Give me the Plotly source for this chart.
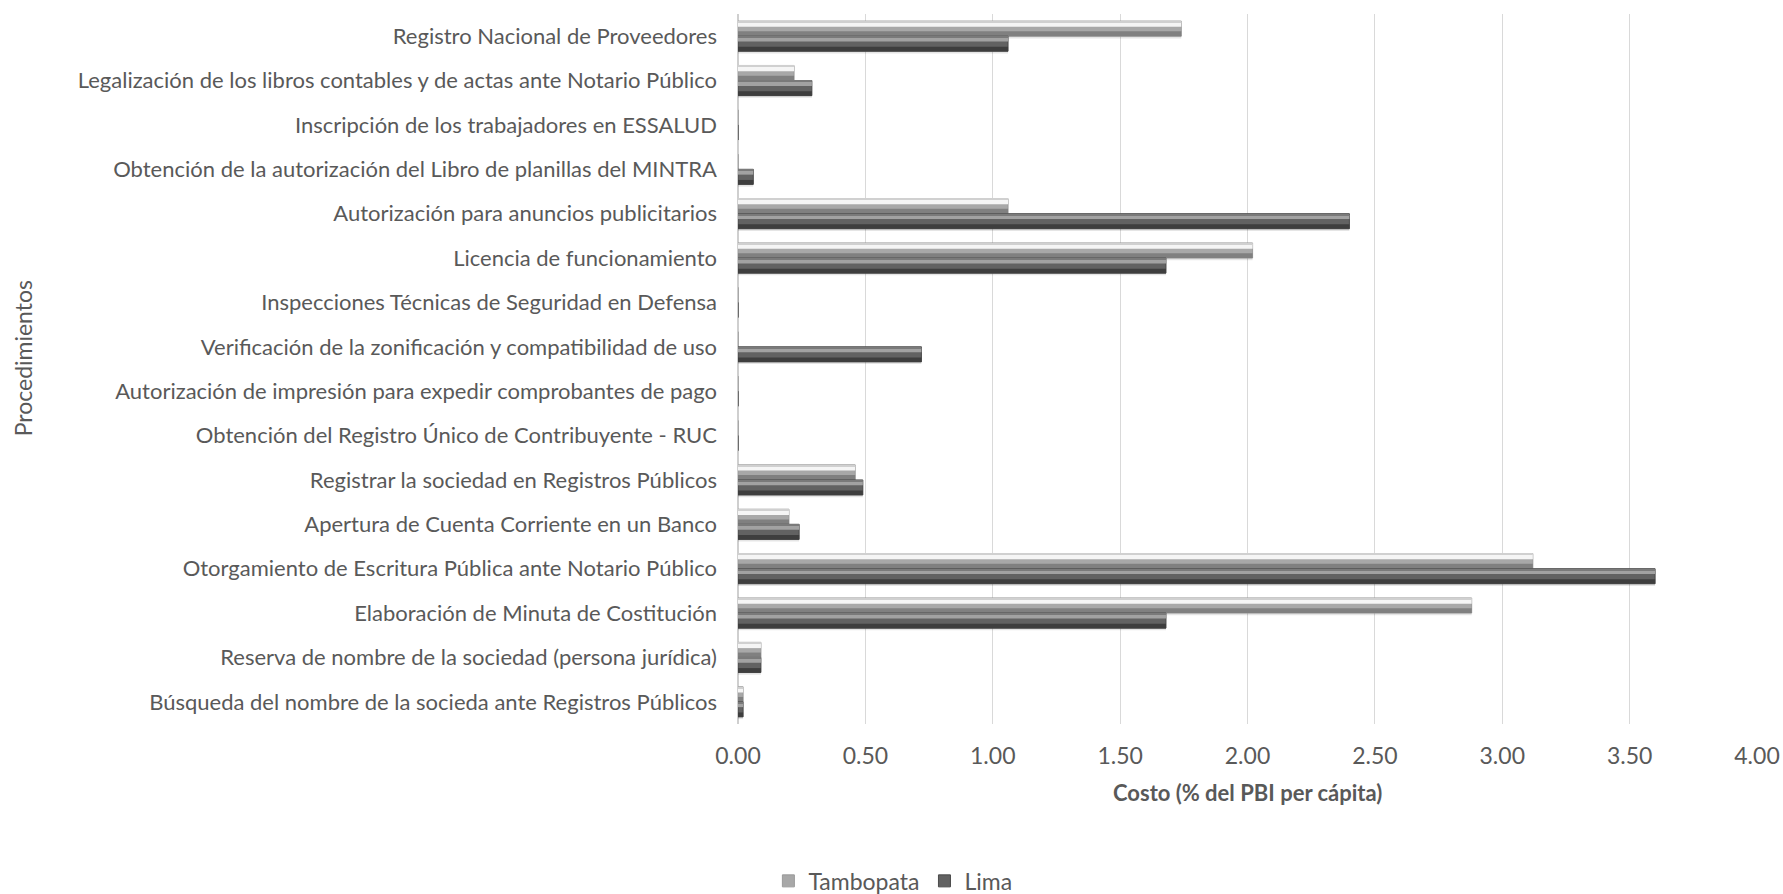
import plotly.graph_objects as go

# Procedures, listed bottom to top as they appear on the category axis
procedimientos = [
    "Búsqueda del nombre de la socieda ante Registros Públicos",
    "Reserva de nombre de la sociedad (persona jurídica)",
    "Elaboración de Minuta de Costitución",
    "Otorgamiento de Escritura Pública ante Notario Público",
    "Apertura de Cuenta Corriente en un Banco",
    "Registrar la sociedad en Registros Públicos",
    "Obtención del Registro Único de Contribuyente - RUC",
    "Autorización de impresión para expedir comprobantes de pago",
    "Verificación de la zonificación y compatibilidad de uso",
    "Inspecciones Técnicas de Seguridad en Defensa",
    "Licencia de funcionamiento",
    "Autorización para anuncios publicitarios",
    "Obtención de la autorización del Libro de planillas del MINTRA",
    "Inscripción de los trabajadores en ESSALUD",
    "Legalización de los libros contables y de actas ante Notario Público",
    "Registro Nacional de Proveedores",
]

# Cost as % of GDP per capita
tambopata = [0.02, 0.09, 2.88, 3.12, 0.20, 0.46, 0.0, 0.0, 0.0, 0.0, 2.02, 1.06, 0.0, 0.0, 0.22, 1.74]
lima = [0.02, 0.09, 1.68, 3.60, 0.24, 0.49, 0.0, 0.0, 0.72, 0.0, 1.68, 2.40, 0.06, 0.0, 0.29, 1.06]

x_ticks = [0.0, 0.5, 1.0, 1.5, 2.0, 2.5, 3.0, 3.5, 4.0]

TEXT = "#595959"
FONT = "Lato"

fig = go.Figure()

BAR_W = 0.34


def shaded_bar(name, values, base_offset, bands, base_color, outline):
    """Draw one series as a bar plus horizontal shading bands on top of it."""
    fig.add_trace(go.Bar(
        name=name, y=procedimientos, x=values, orientation="h",
        offset=base_offset, width=BAR_W,
        marker=dict(color=base_color, line=dict(color=outline, width=1)),
        legendgroup=name, showlegend=True, hoverinfo="x+y",
    ))
    for off, w, col in bands:
        fig.add_trace(go.Bar(
            name=name, y=procedimientos, x=values, orientation="h",
            offset=base_offset + off, width=w,
            marker=dict(color=col, line=dict(width=0)),
            legendgroup=name, showlegend=False, hoverinfo="skip",
        ))


# soft drop shadows under the bars
for vals, off in ((tambopata, 0.0), (lima, -BAR_W)):
    fig.add_trace(go.Bar(
        y=procedimientos, x=vals, orientation="h",
        offset=off - 0.05, width=BAR_W,
        marker=dict(color="rgba(0,0,0,0.10)", line=dict(width=0)),
        showlegend=False, hoverinfo="skip",
    ))

shaded_bar(
    "Tambopata", tambopata, 0.0,
    bands=[(0.0, 0.11, "#808080"), (0.21, 0.12, "#f5f5f5"), (0.31, 0.03, "#d0d0d0")],
    base_color="#a8a8a8", outline="#9a9a9a",
)
shaded_bar(
    "Lima", lima, -BAR_W,
    bands=[(0.0, 0.10, "#3e3e3e"), (0.22, 0.09, "#a2a2a2"), (0.31, 0.03, "#7a7a7a")],
    base_color="#626262", outline="#4a4a4a",
)

fig.update_layout(
    width=1783, height=894,
    margin=dict(l=738, r=26, t=14, b=170, autoexpand=False),
    barmode="overlay",
    plot_bgcolor="white", paper_bgcolor="white",
    font=dict(family=FONT, size=22, color=TEXT),
    xaxis=dict(
        range=[0, 4.0], tickvals=x_ticks, tickformat=".2f",
        showgrid=True, gridcolor="#d9d9d9", gridwidth=1,
        zeroline=True, zerolinecolor="#cfcfcf", zerolinewidth=1.5,
        showline=False, ticks="", ticklabelstandoff=16,
        tickfont=dict(family=FONT, size=23, color=TEXT),
        automargin=False, fixedrange=True,
    ),
    yaxis=dict(
        categoryorder="array", categoryarray=procedimientos,
        range=[-0.5, len(procedimientos) - 0.5],
        showgrid=False, zeroline=False, showline=False, ticks="",
        ticklabelstandoff=20, automargin=False,
        tickfont=dict(family=FONT, size=22, color=TEXT),
        fixedrange=True,
    ),
    legend=dict(
        orientation="h", x=0.152, xanchor="center", y=-0.221, yanchor="middle",
        font=dict(family=FONT, size=23, color=TEXT),
        itemwidth=30, traceorder="normal", bgcolor="rgba(0,0,0,0)",
    ),
    annotations=[
        dict(
            text="<b>Costo (% del PBI per cápita)</b>", xref="paper", yref="paper",
            x=0.5, y=-0.096, xanchor="center", yanchor="middle", showarrow=False,
            font=dict(family=FONT, size=22, color=TEXT),
        ),
        dict(
            text="Procedimientos", xref="paper", yref="paper",
            x=-0.7017, y=0.515, xanchor="center", yanchor="middle", showarrow=False,
            textangle=-90, font=dict(family=FONT, size=23, color=TEXT),
        ),
    ],
    bargap=0.3,
)

fig.write_html("out.html")
